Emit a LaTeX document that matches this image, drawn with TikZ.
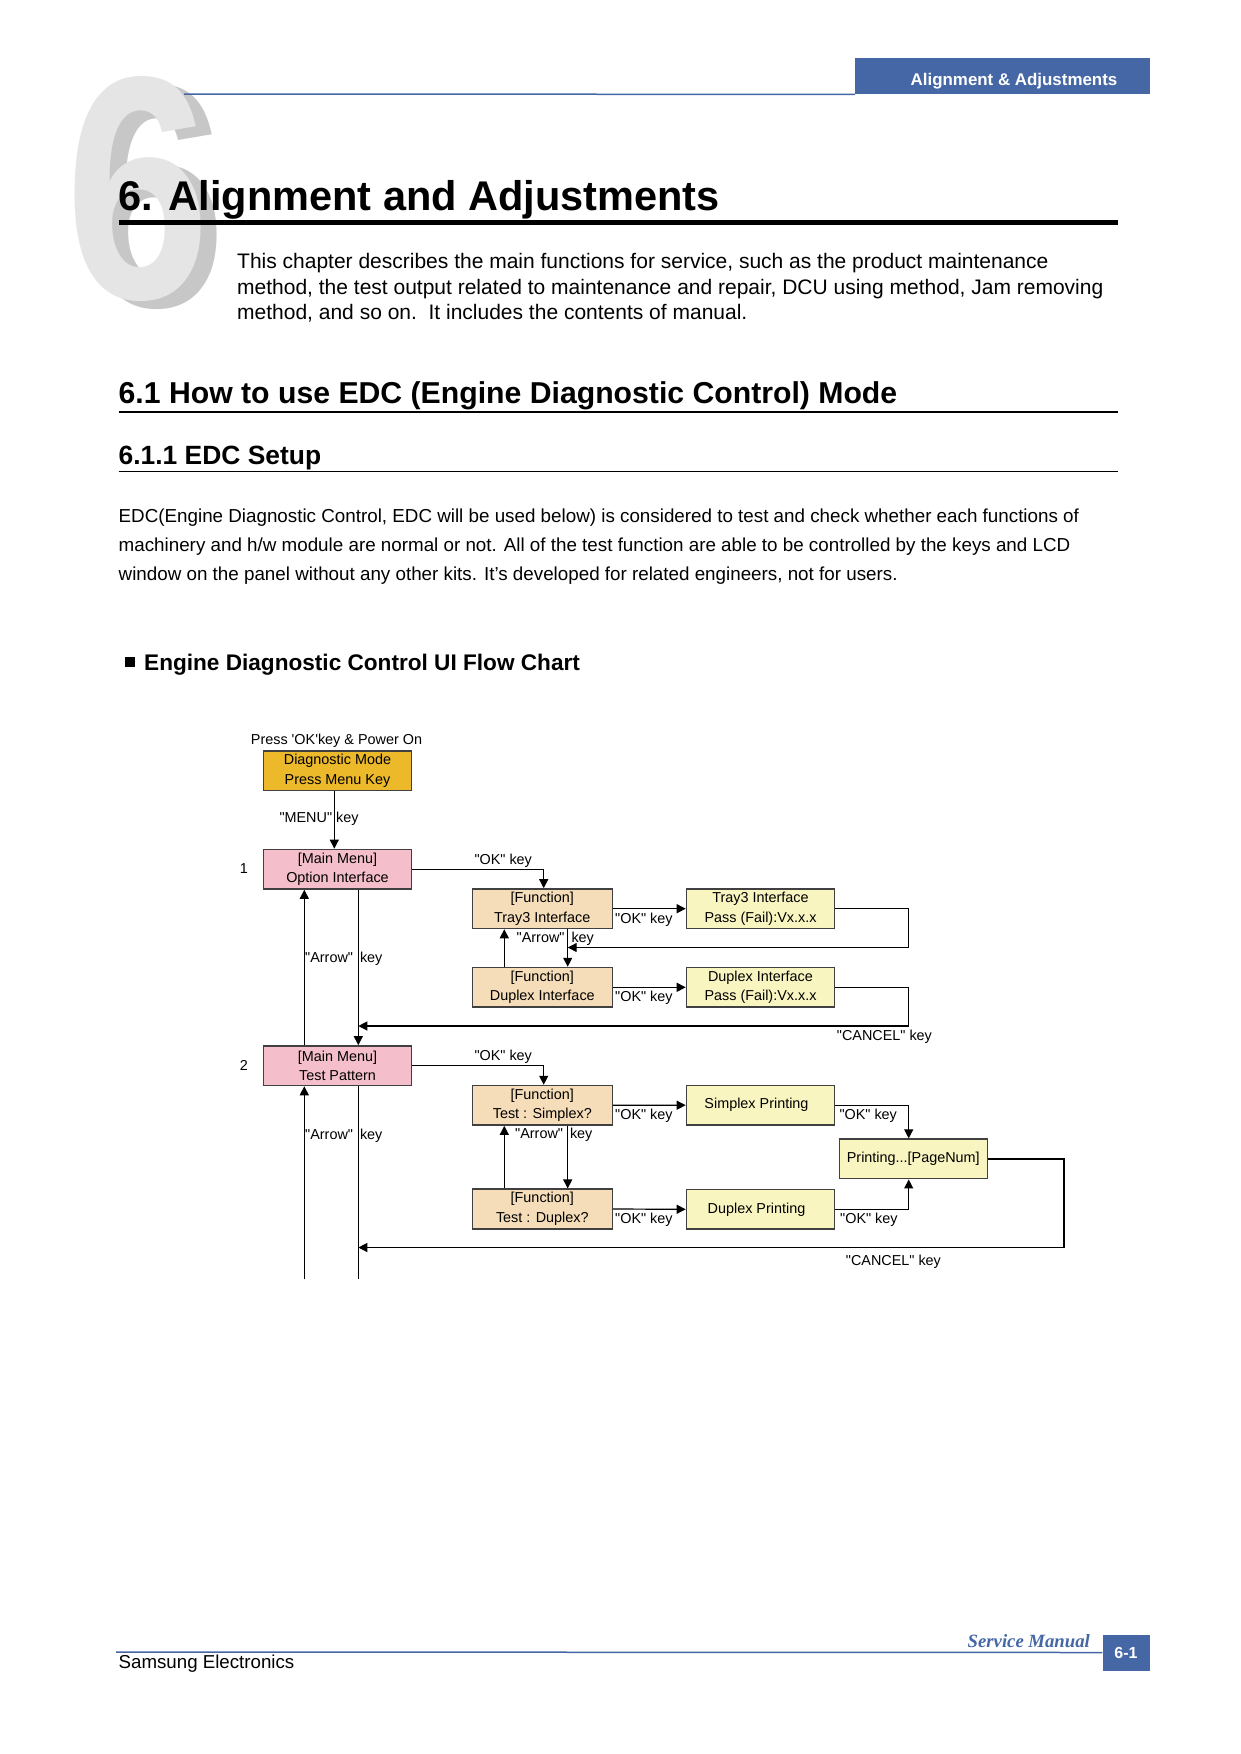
\documentclass[tikz,border=0pt]{standalone}
\usepackage{fontspec}
\setmainfont{Liberation Sans}
\newfontfamily\tmsfont{Liberation Serif}
\usetikzlibrary{arrows.meta}
\definecolor{hblue}{RGB}{69,103,166}
\definecolor{cdiag}{RGB}{236,185,42}
\definecolor{cmain}{RGB}{244,191,203}
\definecolor{cfunc}{RGB}{246,221,185}
\definecolor{cres}{RGB}{249,245,192}
\definecolor{cborder}{RGB}{64,64,64}
\newcommand{\fsz}[2]{\fontsize{#1pt}{#2pt}\selectfont}
\newcommand{\dq}{\textquotedbl}
\begin{document}
\begin{tikzpicture}[x=1pt,y=-1pt,
  lbl/.style={inner sep=0pt, anchor=mid west, yshift=-3pt, font=\fsz{14.4}{17}},
  ptxt/.style={inner sep=0pt, anchor=base west},
  boxbase/.style={draw=cborder, line width=1.6pt, inner sep=0pt, align=center, font=\fsz{14.4}{19.5}, minimum height=39.5pt},
  wbox/.style={boxbase, minimum width=148pt},
  nbox/.style={boxbase, minimum width=140pt},
  conn/.style={line width=1.2pt},
  arr/.style={conn, -{Triangle[length=9pt,width=9pt]}},
]
\useasboundingbox (0,0) rectangle (1240,1754);
\fill[white] (0,0) rectangle (1240,1754);

% ---------- big chapter digit ----------
\node[anchor=base, inner sep=0pt, text=black!22, font=\fsz{318}{318}\bfseries] (sixshadow) at (154,306) {\scalebox{0.82}[1]{6}};
\node[anchor=base, inner sep=0pt, text=black!10, font=\fsz{318}{318}\bfseries] (six) at (138,298) {\scalebox{0.82}[1]{6}};

% ---------- header ----------
\node[fill=hblue, anchor=north west, minimum width=294.4pt, minimum height=36pt, inner sep=0pt] (hdr) at (855,58) {};
\node[inner sep=0pt, text=white, font=\fsz{16.9}{20}\bfseries] (hdrtxt) at (1014,81) {Alignment \& Adjustments};
\coordinate (hl) at (184,94);
\draw[hblue, line width=1.5pt] (hl) -- (hdr.south west);

% ---------- title ----------
\node[ptxt, font=\fsz{41.5}{48}\bfseries] (title) at (118.5,210) {6. Alignment and Adjustments};
\coordinate (r0a) at (118.5,222.5); \coordinate (r0b) at (1118,222.5);
\draw[line width=5pt] (r0a) -- (r0b);

\node[ptxt, font=\fsz{21}{25}] (i1) at (237,268.5) {This chapter describes the main functions for service, such as the product maintenance};
\node[ptxt, font=\fsz{21}{25}] (i2) at (237,294) {method, the test output related to maintenance and repair, DCU using method, Jam removing};
\node[ptxt, font=\fsz{21}{25}] (i3) at (237,319) {method, and so on.\ \ It includes the contents of manual.};

% ---------- section headings ----------
\node[ptxt, font=\fsz{30.2}{34}\bfseries] (h1) at (118.5,403) {6.1 How to use EDC (Engine Diagnostic Control) Mode};
\coordinate (r1a) at (118.5,411.5); \coordinate (r1b) at (1118,411.5);
\draw[line width=2pt] (r1a) -- (r1b);
\node[ptxt, font=\fsz{26.4}{30}\bfseries] (h2) at (118.5,464.5) {6.1.1 EDC Setup};
\coordinate (r2a) at (118.5,471.8); \coordinate (r2b) at (1118,471.8);
\draw[line width=1.3pt] (r2a) -- (r2b);

\node[ptxt, font=\fsz{18.8}{22}] (p1) at (118.5,522) {EDC(Engine Diagnostic Control, EDC will be used below) is considered to test and check whether each functions of};
\node[ptxt, font=\fsz{18.8}{22}] (p2) at (118.5,551) {machinery and h/w module are normal or not. All of the test function are able to be controlled by the keys and LCD};
\node[ptxt, font=\fsz{18.8}{22}] (p3) at (118.5,580) {window on the panel without any other kits. It’s developed for related engineers, not for users.};

\fill (125,657) rectangle (134.5,666.5);
\node[ptxt, font=\fsz{22.6}{26}\bfseries] (h3) at (144,670) {Engine Diagnostic Control UI Flow Chart};

% ---------- flow chart boxes ----------
\node[lbl] (start) at (250.7,739) {Press \textquotesingle OK\textquotesingle key \& Power On};
\node[wbox, fill=cdiag] (diag) at (337.5,770.9) {Diagnostic Mode\\Press Menu Key};
\node[wbox, fill=cmain] (mm1) at (337.5,869.2) {[Main Menu]\\Option Interface};
\node[nbox, fill=cfunc] (ft3) at (542.3,908.7) {[Function]\\Tray3 Interface};
\node[nbox, fill=cfunc] (fdx) at (542.3,987.3) {[Function]\\Duplex Interface};
\node[wbox, fill=cres] (rt3) at (760.5,908.7) {Tray3 Interface\\Pass (Fail):Vx.x.x};
\node[wbox, fill=cres] (rdx) at (760.5,987.3) {Duplex Interface\\Pass (Fail):Vx.x.x};
\node[wbox, fill=cmain] (mm2) at (337.5,1065.7) {[Main Menu]\\Test Pattern};
\node[nbox, fill=cfunc] (fsp) at (542.3,1105.3) {[Function]\\Test : Simplex?};
\node[nbox, fill=cfunc] (ftd) at (542.3,1209) {[Function]\\Test : Duplex?};
\node[wbox, fill=cres] (psp) at (760.5,1105.2) {\hspace*{-8pt}Simplex Printing};
\node[wbox, fill=cres] (pdp) at (760.5,1209.3) {\hspace*{-8pt}Duplex Printing};
\node[wbox, fill=cres] (ppg) at (913.3,1158.9) {Printing...[PageNum]};

\node[lbl, anchor=mid] (n1) at (244,868) {1};
\node[lbl, anchor=mid] (n2) at (244,1065) {2};

% ---------- connectors ----------
\draw[arr] ([xshift=-3.2pt]diag.south) -- ([xshift=-3.2pt]mm1.north);
\node[lbl] (lmenu) at (279.3,816.7) {\dq MENU\dq\ key};

\draw[arr] (mm1.east) -| ([xshift=1.4pt]ft3.north);
\node[lbl] (lok1) at (474.3,859.3) {\dq OK\dq\ key};
\draw[arr] (ft3.east) -- (rt3.west);
\node[lbl] (lok2) at (615,918.3) {\dq OK\dq\ key};
\draw[arr] ([xshift=-38pt]fdx.north) -- ([xshift=-38pt]ft3.south);
\draw[arr] ([xshift=25.4pt]ft3.south) -- ([xshift=25.4pt]fdx.north);
\node[lbl] (lar1) at (516.5,936.7) {\dq Arrow\dq\hspace{7pt}key};
\coordinate (c1) at (908.7,947.5);
\coordinate (j1) at (567.7,947.5);
\draw[arr] (rt3.east) -| (c1) -- (j1);
\draw[arr] (fdx.east) -- (rdx.west);
\node[lbl] (lok3) at (615,996) {\dq OK\dq\ key};
\coordinate (c2) at (908.7,1026);
\coordinate (j2) at (358.3,1026);
\draw[arr] (rdx.east) -| (c2) -- (j2);
\node[lbl] (lcan1) at (836.7,1035) {\dq CANCEL\dq\ key};

\draw[arr] ([xshift=-33.2pt]mm2.north) -- ([xshift=-33.2pt]mm1.south);
\draw[arr] ([xshift=20.8pt]mm1.south) -- ([xshift=20.8pt]mm2.north);
\node[lbl] (lar2) at (305,957.3) {\dq Arrow\dq\hspace{7pt}key};

\draw[arr] (mm2.east) -| ([xshift=1.4pt]fsp.north);
\node[lbl] (lok4) at (474.3,1055) {\dq OK\dq\ key};
\draw[arr] (fsp.east) -- (psp.west);
\node[lbl] (lok5) at (615,1114.3) {\dq OK\dq\ key};
\draw[arr] ([xshift=-38pt]ftd.north) -- ([xshift=-38pt]fsp.south);
\draw[arr] ([xshift=25.4pt]fsp.south) -- ([xshift=25.4pt]ftd.north);
\node[lbl] (lar3) at (515,1132.7) {\dq Arrow\dq\hspace{7pt}key};
\draw[arr] (ftd.east) -- (pdp.west);
\node[lbl] (lok6) at (615,1218.3) {\dq OK\dq\ key};
\draw[arr] (psp.east) -| ([xshift=-4.6pt]ppg.north);
\node[lbl] (lok7) at (839.3,1114.3) {\dq OK\dq\ key};
\draw[arr] (pdp.east) -| ([xshift=-4.6pt]ppg.south);
\node[lbl] (lok8) at (840,1218.3) {\dq OK\dq\ key};
\coordinate (c3) at (1064,1247.5);
\coordinate (j3) at (358.3,1247.5);
\draw[arr] (ppg.east) -| (c3) -- (j3);
\node[lbl] (lcan2) at (845.7,1260) {\dq CANCEL\dq\ key};

\coordinate (b1) at (304.3,1279.3);
\coordinate (b2) at (358.3,1279.3);
\draw[arr] (b1) -- ([xshift=-33.2pt]mm2.south);
\draw[conn] ([xshift=20.8pt]mm2.south) -- (b2);
\node[lbl] (lar4) at (305,1134.3) {\dq Arrow\dq\hspace{7pt}key};

% ---------- footer ----------
\node[fill=hblue, text=white, font=\fsz{16}{18}\bfseries, minimum width=47pt, minimum height=36pt, inner sep=0pt] (pg) at (1126,1652.5) {6-1};
\coordinate (fl) at (116,1652);
\draw[hblue, line width=1.5pt] (fl) -- (pg.west);
\node[inner sep=0pt, anchor=base east, text=hblue, font=\tmsfont\fsz{18.7}{20}\bfseries\itshape] (sm) at (1090,1647) {Service Manual};
\node[ptxt, font=\fsz{18.7}{22}] (se) at (118.5,1668) {Samsung Electronics};
\end{tikzpicture}
\end{document}
